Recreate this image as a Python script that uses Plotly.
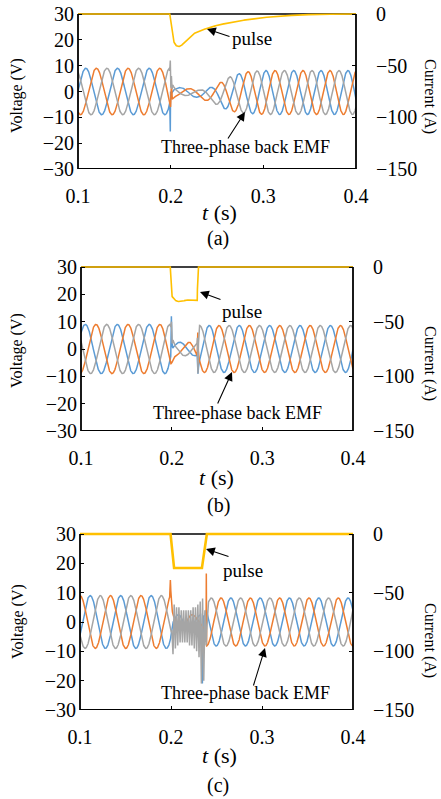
import numpy as np
import plotly.graph_objects as go

W, H = 441, 799
FONT = "Liberation Serif"

BLUE, ORANGE, GRAY, YELLOW = "#5B9BD5", "#ED7D31", "#A5A5A5", "#FFC000"

T_START, T_END, T_STEP = 0.1, 0.4, 0.0002

X_TICKS = [0.1, 0.2, 0.3, 0.4]
V_TICKS = [-30, -20, -10, 0, 10, 20, 30]
I_TICKS = [-150, -100, -50, 0]
PANEL_TAGS = ["(a)", "(b)", "(c)"]

# ---------------- panel (a) ----------------
A_ORANGE_PEAKS = [0.0856, 0.1198, 0.1540, 0.1882, 0.2213, 0.2535, 0.2835, 0.3126, 0.3428, 0.3719, 0.4010]
A_AMP_T = [0.100, 0.1985, 0.2010, 0.2040, 0.2100, 0.2300, 0.2450, 0.2550, 0.2650, 0.2800, 0.3000, 0.4000]
A_AMP_V = [9.0, 9.0, 4.0, 2.0, 1.5, 1.5, 3.0, 5.0, 6.8, 8.0, 8.5, 8.5]
A_OFF_T = [0.100, 0.200, 0.215, 0.235, 0.255, 0.280, 0.400]
A_OFF_V = [0.0, 0.0, 0.0, -1.2, -1.2, -0.4, -0.4]
A_BLUE_SPIKE_T = [0.1990, 0.1996, 0.1999, 0.2004]
A_BLUE_SPIKE_V = [None, -15.5, 0.0, None]
A_GRAY_SPIKE_T = [0.1990, 0.1996, 0.2002, 0.2008, 0.2015, 0.2024]
A_GRAY_SPIKE_V = [None, 12.0, 1.5, 6.0, 1.0, None]
A_ORANGE_SPIKE_T = [0.1990, 0.1999, 0.2008, 0.2018]
A_ORANGE_SPIKE_V = [None, -6.0, 3.0, None]
A_PULSE_T = [0.100, 0.199, 0.200, 0.201, 0.2025, 0.205, 0.208, 0.211, 0.215, 0.220, 0.225, 0.230,
             0.239, 0.250, 0.260, 0.275, 0.290, 0.310, 0.330, 0.350, 0.370, 0.400]
A_PULSE_I = [0.0, 0.0, -6.0, -16.0, -25.0, -30.0, -31.6, -31.0, -27.5, -22.5, -19.0, -16.8,
             -14.0, -11.0, -9.0, -6.5, -4.5, -2.6, -1.4, -0.6, -0.2, 0.0]

# ---------------- panel (b) ----------------
B_ORANGE_PEAKS = [0.0812, 0.1165, 0.1518, 0.1870, 0.2200, 0.2522, 0.2857, 0.3192, 0.3527, 0.3862, 0.4197]
B_AMP_T = [0.100, 0.1985, 0.2015, 0.2040, 0.2280, 0.2292, 0.4000]
B_AMP_V = [9.0, 9.0, 4.0, 2.5, 2.5, 8.6, 8.6]
B_OFF_T = [0.100, 0.400]
B_OFF_V = [0.0, 0.0]
B_BLUE_SPIKE_T = [0.1990, 0.1997, 0.2003, 0.2012, 0.2284, 0.2290, 0.2298]
B_BLUE_SPIKE_V = [None, 12.0, 1.0, None, None, -9.0, None]
B_GRAY_SPIKE_T = [0.1990, 0.1998, 0.2006, 0.2014, 0.2284, 0.2290, 0.2300]
B_GRAY_SPIKE_V = [None, 10.0, 2.0, None, None, -9.0, None]
B_ORANGE_SPIKE_T = [0.2200, 0.2282, 0.2288, 0.2296]
B_ORANGE_SPIKE_V = [None, -2.5, 6.0, None]
B_PULSE_T = [0.100, 0.1985, 0.1995, 0.2005, 0.203, 0.206, 0.212, 0.216, 0.222, 0.2282, 0.2288, 0.400]
B_PULSE_I = [0.0, 0.0, -22.0, -27.0, -30.0, -31.5, -31.5, -30.0, -30.5, -30.5, 0.0, 0.0]

# ---------------- panel (c) ----------------
C_ORANGE_PEAKS = [0.0665, 0.1000, 0.1335, 0.1670, 0.2005, 0.2228, 0.2550, 0.2872, 0.3194, 0.3516, 0.3838, 0.4160]
C_AMP_T = [0.100, 0.1995, 0.2020, 0.2370, 0.2390, 0.4000]
C_AMP_V = [9.0, 9.0, 2.5, 2.5, 8.2, 8.2]
C_OFF_T = [0.100, 0.400]
C_OFF_V = [0.0, 0.0]
C_ORANGE_SPIKE_T = [0.1985, 0.1993, 0.2002, 0.2385, 0.2388, 0.2392]
C_ORANGE_SPIKE_V = [None, 14.3, None, None, 16.5, None]
C_BLUE_SPIKE_T = [0.2325, 0.2345, 0.2352, 0.2360]
C_BLUE_SPIKE_V = [None, -21.0, 2.0, None]
C_GRAY_SPIKE_T = [0.2010, 0.2022, 0.2035, 0.2048, 0.2061, 0.2074, 0.2087, 0.2100, 0.2113, 0.2126,
                  0.2139, 0.2152, 0.2165, 0.2178, 0.2191, 0.2204, 0.2217, 0.2230, 0.2243, 0.2256,
                  0.2269, 0.2282, 0.2295, 0.2308, 0.2321, 0.2334, 0.2347, 0.2360, 0.2373, 0.2386,
                  0.2399, 0.2412]
C_GRAY_SPIKE_V = [None, -11.0, 6.0, -9.0, 5.0, -8.0, 5.0, -7.0, 4.0, -7.0,
                  4.0, -7.0, 4.0, -7.0, 4.0, -8.0, 4.0, -8.0, 5.0, -9.0,
                  5.0, -10.0, 6.0, -12.0, 7.0, -21.0, 8.0, -20.0, 4.0, -8.0,
                  2.0, None]
C_PULSE_T = [0.100, 0.1995, 0.2026, 0.2340, 0.2387, 0.400]
C_PULSE_I = [0.0, 0.0, -29.0, -29.0, 0.0, 0.0]

# panel frames in page pixels: left, right, top, bottom
FRAMES = [(78, 356, 14, 169), (81, 353, 267, 431), (80, 353, 534, 710)]


def merged_time(*extra):
    t = np.arange(T_START, T_END + T_STEP / 2, T_STEP)
    pts = [np.asarray(e, float) for e in extra if len(e)]
    if pts:
        t = np.union1d(t, np.concatenate(pts))
    return t[(t >= T_START) & (t <= T_END)]


def three_phase(t, peaks, amp_t, amp_v, off_t, off_v, blue_leads=True):
    cyc = np.interp(t, peaks, np.arange(len(peaks)))
    amp = np.interp(t, amp_t, amp_v)
    off = np.interp(t, off_t, off_v)
    s = 1.0 if blue_leads else -1.0
    orange = amp * np.cos(2 * np.pi * cyc) + off
    blue = amp * np.cos(2 * np.pi * (cyc + s / 3)) + off
    gray = amp * np.cos(2 * np.pi * (cyc - s / 3)) + off
    return blue, orange, gray


def apply_spikes(t, base, sp_t, sp_v):
    """Pull the trace through the listed readings; None marks a point that keeps the base value."""
    if not len(sp_t):
        return base
    sp_t = np.asarray(sp_t, float)
    at = np.interp(sp_t, t, base)
    dv = np.array([0.0 if v is None else v - b for v, b in zip(sp_v, at)])
    out = base.copy()
    start = 0
    for k in range(1, len(sp_t)):
        if sp_v[k] is None and (k == len(sp_t) - 1 or sp_v[k + 1] is None):
            seg = slice(start, k + 1)
            m = (t >= sp_t[start]) & (t <= sp_t[k])
            out[m] += np.interp(t[m], sp_t[seg], dv[seg])
            start = k + 1
    return out


PANELS = [
    dict(peaks=A_ORANGE_PEAKS, amp=(A_AMP_T, A_AMP_V), off=(A_OFF_T, A_OFF_V), lead=True,
         blue=(A_BLUE_SPIKE_T, A_BLUE_SPIKE_V), orange=(A_ORANGE_SPIKE_T, A_ORANGE_SPIKE_V),
         gray=(A_GRAY_SPIKE_T, A_GRAY_SPIKE_V), pulse=(A_PULSE_T, A_PULSE_I), pw=1.6),
    dict(peaks=B_ORANGE_PEAKS, amp=(B_AMP_T, B_AMP_V), off=(B_OFF_T, B_OFF_V), lead=True,
         blue=(B_BLUE_SPIKE_T, B_BLUE_SPIKE_V), orange=(B_ORANGE_SPIKE_T, B_ORANGE_SPIKE_V),
         gray=(B_GRAY_SPIKE_T, B_GRAY_SPIKE_V), pulse=(B_PULSE_T, B_PULSE_I), pw=1.6),
    dict(peaks=C_ORANGE_PEAKS, amp=(C_AMP_T, C_AMP_V), off=(C_OFF_T, C_OFF_V), lead=False,
         blue=(C_BLUE_SPIKE_T, C_BLUE_SPIKE_V), orange=(C_ORANGE_SPIKE_T, C_ORANGE_SPIKE_V),
         gray=(C_GRAY_SPIKE_T, C_GRAY_SPIKE_V), pulse=(C_PULSE_T, C_PULSE_I), pw=2.6),
]

# annotation layout per panel (page pixels)
LABELS = [
    dict(pulse_txt=(252, 39), pulse_tip=(207, 29), pulse_tail=(231, 37),
         emf_txt=(246, 147), emf_tip=(245, 112), emf_tail=(227, 140),
         vtitle=(17, 96), ctitle=(430, 96), ttitle=(219, 212), tag=(218, 238)),
    dict(pulse_txt=(242, 312), pulse_tip=(200, 292), pulse_tail=(222, 300),
         emf_txt=(237, 413), emf_tip=(232, 372), emf_tail=(217, 405),
         vtitle=(17, 351), ctitle=(430, 363), ttitle=(216, 477), tag=(218, 505)),
    dict(pulse_txt=(243, 570), pulse_tip=(206, 549), pulse_tail=(230, 557),
         emf_txt=(245, 693), emf_tip=(265, 648), emf_tail=(253, 687),
         vtitle=(18, 622), ctitle=(430, 640), ttitle=(219, 755), tag=(218, 785)),
]

EXT = 2  # px of head-room above the frame so the current trace on the top edge is not clipped

fig = go.Figure()
layout = dict(width=W, height=H, margin=dict(l=0, r=0, t=0, b=0, autoexpand=False), showlegend=False,
              paper_bgcolor="white", plot_bgcolor="rgba(0,0,0,0)",
              font=dict(family=FONT, color="black"))
shapes, annos = [], []


def px(x):
    return x / W


def py(y):
    return 1 - y / H


for i, (p, fr, lb) in enumerate(zip(PANELS, FRAMES, LABELS)):
    x0, x1, ytop, ybot = fr
    h = ybot - ytop
    xa = "x" if i == 0 else f"x{i + 1}"
    yv = "y" if i == 0 else f"y{2 * i + 1}"
    yc = f"y{2 * i + 2}"
    xkey = "xaxis" if i == 0 else f"xaxis{i + 1}"
    yvkey = "yaxis" if i == 0 else f"yaxis{2 * i + 1}"
    yckey = f"yaxis{2 * i + 2}"

    t = merged_time(p["blue"][0], p["orange"][0], p["gray"][0], p["pulse"][0])
    blue, orange, gray = three_phase(t, p["peaks"], *p["amp"], *p["off"], blue_leads=p["lead"])
    blue = apply_spikes(t, blue, *p["blue"])
    orange = apply_spikes(t, orange, *p["orange"])
    gray = apply_spikes(t, gray, *p["gray"])
    current = np.interp(t, *p["pulse"])

    for y, c in ((blue, BLUE), (orange, ORANGE), (gray, GRAY)):
        fig.add_trace(go.Scatter(x=t, y=y, mode="lines", line=dict(color=c, width=1.5),
                                 xaxis=xa, yaxis=yv, hoverinfo="skip"))
    fig.add_trace(go.Scatter(x=t, y=current, mode="lines", line=dict(color=YELLOW, width=p["pw"]),
                             xaxis=xa, yaxis=yc, hoverinfo="skip"))

    dom_y = [py(ybot), py(ytop - EXT)]
    tick = dict(ticks="inside", ticklen=4, tickwidth=1.2, tickcolor="black", showgrid=False,
                zeroline=False, showline=False, tickfont=dict(family=FONT, size=20, color="black"))
    layout[xkey] = dict(domain=[px(x0), px(x1)], range=[T_START, T_END], tickvals=X_TICKS,
                        ticktext=[f"{v:.1f}" for v in X_TICKS], anchor=yv,
                        ticklabelstandoff=13, **tick)
    layout[yvkey] = dict(domain=dom_y, range=[-30, 30 + 60 * EXT / h], tickvals=V_TICKS,
                         anchor=xa, ticklabelstandoff=3, **tick)
    layout[yckey] = dict(range=[-150, 150 * EXT / h], tickvals=I_TICKS, overlaying=yv, side="right",
                         anchor=xa, ticklabelstandoff=19, **tick)

    # frame: top edge sits under the traces, the other three edges above
    xd, yd = f"{xa} domain", yv
    shapes.append(dict(type="line", xref=xd, yref=yd, x0=0, x1=1, y0=30, y1=30,
                       line=dict(color="black", width=1.6), layer="below"))
    for (a0, b0, a1, b1) in ((0, -30, 0, 30), (1, -30, 1, 30), (0, -30, 1, -30)):
        shapes.append(dict(type="line", xref=xd, yref=yd, x0=a0, y0=b0, x1=a1, y1=b1,
                           line=dict(color="black", width=1.8), layer="above"))

    def text(xy, s, size, angle=0):
        annos.append(dict(xref="paper", yref="paper", x=px(xy[0]), y=py(xy[1]), text=s,
                          showarrow=False, textangle=angle, xanchor="center", yanchor="middle",
                          font=dict(family=FONT, size=size, color="black")))

    def arrow(tip, tail):
        annos.append(dict(xref="paper", yref="paper", x=px(tip[0]), y=py(tip[1]), text="",
                          showarrow=True, ax=tail[0] - tip[0], ay=tail[1] - tip[1],
                          arrowhead=2, arrowsize=1.6, arrowwidth=1.1, arrowcolor="black",
                          standoff=0, startstandoff=0))

    text(lb["pulse_txt"], "pulse", 19)
    arrow(lb["pulse_tip"], lb["pulse_tail"])
    text(lb["emf_txt"], "Three-phase back EMF", 18)
    arrow(lb["emf_tip"], lb["emf_tail"])
    text(lb["vtitle"], "Voltage (V)", 16, -90)
    text(lb["ctitle"], "Current (A)", 16, 90)
    text(lb["ttitle"], "<i>t</i> (s)", 22)
    text(lb["tag"], PANEL_TAGS[i], 20)

layout["shapes"] = shapes
layout["annotations"] = annos
fig.update_layout(**layout)
fig.write_html("out.html")
